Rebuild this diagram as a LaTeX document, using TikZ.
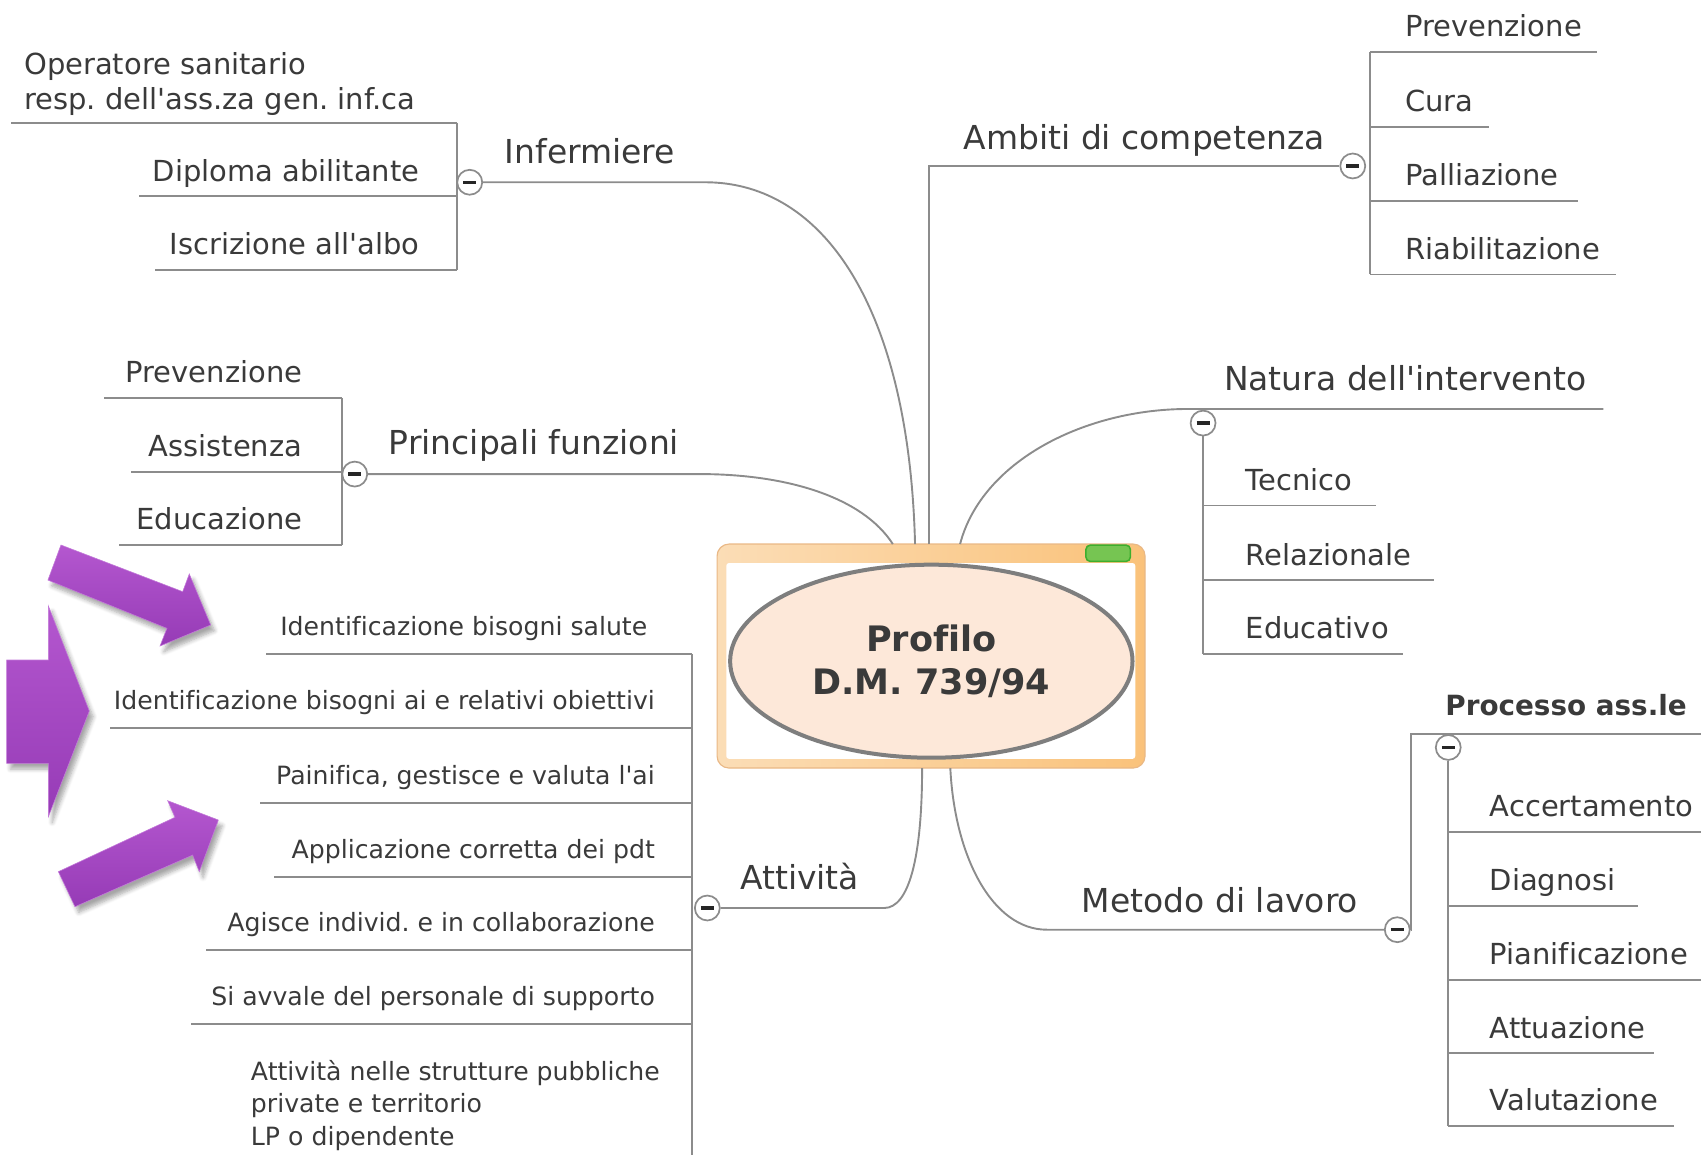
\documentclass[tikz,border=0pt]{standalone}
\usepackage{fontspec}
\setmainfont{DejaVu Sans}[Ligatures={TeXOff,CommonOff}]
\usetikzlibrary{shapes.geometric,shadows.blur}
\frenchspacing

\definecolor{inkgray}{HTML}{3A3A3A}
\definecolor{wiregray}{HTML}{8C8C8C}
\definecolor{peach}{HTML}{FDE8D9}
\definecolor{rimgray}{HTML}{7E7E7E}
\definecolor{framepale}{HTML}{FBDDB6}
\definecolor{framedeep}{HTML}{FAC27A}
\definecolor{frameedge}{HTML}{E9B886}
\definecolor{btngreen}{HTML}{76C552}
\definecolor{btnedge}{HTML}{3DAE2E}
\definecolor{violettop}{HTML}{B457CF}
\definecolor{violetbot}{HTML}{963BB6}

\tikzset{
  wire/.style={draw=wiregray, line width=1pt},
  topic/.style={font=\fontsize{17.3}{20}\selectfont, text=inkgray, inner sep=0pt, anchor=base west},
  leaf/.style={font=\fontsize{15.2}{18.2}\selectfont, text=inkgray, inner sep=0pt},
  task/.style={font=\fontsize{13.2}{17}\selectfont, text=inkgray, inner sep=0pt},
  toggle/.style={circle, draw=wiregray, fill=white, line width=0.9pt, minimum size=0.46cm, inner sep=0pt,
    path picture={\draw[line width=1.7pt, black!85] ([xshift=-0.12cm]path picture bounding box.center) -- ([xshift=0.12cm]path picture bounding box.center);}},
  bigarrow/.style={top color=violettop, bottom color=violetbot, draw=violettop!80!white, line width=0.3pt,
    blur shadow={shadow xshift=2pt, shadow yshift=-3pt, shadow opacity=35, shadow blur steps=6}}
}

\begin{document}
\begin{tikzpicture}[x=0.02cm, y=-0.02cm]
\useasboundingbox (0,0) rectangle (1568,1065);

% central topic
\path[left color=framepale, right color=framedeep, draw=frameedge, line width=0.6pt, rounded corners=0.22cm] (661,501.5) rectangle (1055.5,708);
\fill[white, rounded corners=0.05cm] (669.5,519) rectangle (1046.5,699.5);
\draw[fill=btngreen, draw=btnedge, line width=0.8pt, rounded corners=0.08cm] (1001,502.5) rectangle (1042,517.5);
\node[ellipse, draw=rimgray, line width=2.1pt, fill=peach, minimum width=7.42cm, minimum height=3.56cm, inner sep=0pt,
  font=\bfseries\fontsize{18.4}{22.2}\selectfont, text=inkgray, align=center] (profilo) at (858.5,609.5) {Profilo\\D.M. 739/94};
\coordinate (hubPri) at (823,501.5);
\coordinate (hubInf) at (843.5,501.5);
\coordinate (hubAmb) at (856.5,501.5);
\coordinate (hubNat) at (885,501.5);
\coordinate (hubAtt) at (850,708);
\coordinate (hubMet) at (876,708);

% Infermiere
\node[toggle] (tInf) at (433,168) {};
\node[topic] (infermiere) at (465,151) {Infermiere};
\draw[wire] (tInf.east) -- (650,168) .. controls (760,168) and (838,285) .. (hubInf);
\draw[wire] (421,113) -- (421,249);
\draw[wire] (421,113) -- (10,113);
\draw[wire] (421,181) -- (128,181);
\draw[wire] (421,249) -- (143,249);
\node[leaf, anchor=north west, align=left] (operatore) at (22,48) {Operatore sanitario\\resp. dell'ass.za gen. inf.ca};
\node[leaf, anchor=base east] (diploma) at (387,167) {Diploma abilitante};
\node[leaf, anchor=base east] (iscrizione) at (387,235) {Iscrizione all'albo};

% Ambiti di competenza
\node[toggle] (tAmb) at (1247,153) {};
\node[topic] (ambiti) at (888,138) {Ambiti di competenza};
\draw[wire] (hubAmb) |- (tAmb.west);
\draw[wire] (1263,48) -- (1263,253);
\foreach \y/\e/\txt [count=\i] in {48/1472/Prevenzione, 117/1373/Cura, 185/1455/Palliazione, 253/1490/Riabilitazione} {
  \draw[wire] (1263,\y) -- (\e,\y);
  \node[leaf, anchor=base west] (amb\i) at (1295,\y-14) {\txt};
}

% Principali funzioni
\node[toggle] (tPri) at (327,437) {};
\node[topic] (principali) at (358,419) {Principali funzioni};
\draw[wire] (tPri.east) -- (645,437) .. controls (725,437) and (795,458) .. (hubPri);
\draw[wire] (315,367) -- (315,502);
\foreach \y/\s/\txt [count=\i] in {367/96/Prevenzione, 435/121/Assistenza, 502/110/Educazione} {
  \draw[wire] (315,\y) -- (\s,\y);
  \node[leaf, anchor=base east] (pri\i) at (279,\y-14) {\txt};
}

% Natura dell'intervento
\node[toggle] (tNat) at (1109,390) {};
\node[topic] (natura) at (1128,360) {Natura dell'intervento};
\draw[wire] (hubNat) .. controls (905,425) and (1000,377) .. (1095,377) -- (1478,377);
\draw[wire] (tNat.south) -- (1109,603);
\foreach \y/\e/\txt [count=\i] in {466/1268/Tecnico, 535/1322/Relazionale, 603/1293/Educativo} {
  \draw[wire] (1109,\y) -- (\e,\y);
  \node[leaf, anchor=base west] (nat\i) at (1148,\y-14) {\txt};
}

% Attivita
\node[toggle] (tAtt) at (652,837) {};
\node[topic] (attivita) at (682,820) {Attività};
\draw[wire] (hubAtt) .. controls (850,790) and (838,837) .. (815,837) -- (tAtt.east);
\draw[wire] (638,603) -- (638,1065);
\foreach \y/\s/\r/\txt [count=\i] in {603/245/597/Identificazione bisogni salute,
    671/101/604/Identificazione bisogni ai e relativi obiettivi,
    740/240/604/{Painifica, gestisce e valuta l'ai},
    808/253/604/Applicazione corretta dei pdt,
    876/190/604/Agisce individ. e in collaborazione,
    944/176/604/Si avvale del personale di supporto} {
  \draw[wire] (638,\y) -- (\s,\y);
  \node[task, anchor=base east] (att\i) at (\r,\y-17) {\txt};
}
\node[task, anchor=north west, align=left] (att7) at (231,977) {Attività nelle strutture pubbliche\\private e territorio\\LP o dipendente};

% Metodo di lavoro
\node[toggle] (tMet) at (1288,857) {};
\node[topic] (metodo) at (997,841) {Metodo di lavoro};
\draw[wire] (hubMet) .. controls (880,790) and (915,857) .. (965,857) -- (tMet.west);
\draw[wire] (tMet.east) -| (1301,677) -- (1568,677);
\node[topic, font=\bfseries\fontsize{14.6}{17}\selectfont] (processo) at (1332,660) {Processo ass.le};
\node[toggle] (tPro) at (1335,689) {};
\draw[wire] (tPro.south) -- (1335,1038);
\foreach \y/\e/\txt [count=\i] in {767/1568/Accertamento, 835/1510/Diagnosi, 903/1568/Pianificazione, 971/1525/Attuazione, 1038/1543/Valutazione} {
  \draw[wire] (1335,\y) -- (\e,\y);
  \node[leaf, anchor=base west] (pro\i) at (1373,\y-14) {\txt};
}

% purple arrows
\path[bigarrow] (56.2,502.4) -- (168.4,545.4) -- (174.5,529.1) -- (194.2,576.1) -- (147.5,595.5) -- (153.9,579.2) -- (44.2,534.7) -- cycle;
\path[bigarrow] (6.1,608.4) -- (44.6,608.4) -- (44.6,558.6) -- (82.3,655.4) -- (44.6,752.8) -- (44.6,703.6) -- (6.1,703.6) -- cycle;
\path[bigarrow] (53.8,803.5) -- (161.3,753.4) -- (154.6,738.1) -- (201.3,755.9) -- (183.7,803.5) -- (177.6,788.2) -- (69.1,835.8) -- cycle;
\end{tikzpicture}
\end{document}
